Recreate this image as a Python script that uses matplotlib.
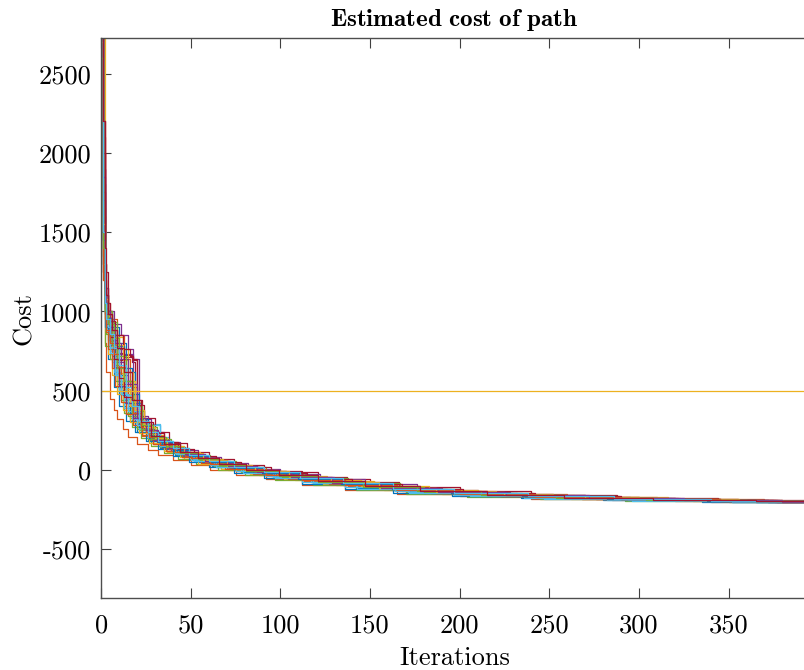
import matplotlib
matplotlib.use("Agg")
import matplotlib.pyplot as plt
from matplotlib.ticker import FuncFormatter

# -------- data (step points: iteration, best cost) --------
x_max = 394
y_min, y_max = -808, 2727
ref_level = 500

iter_runs = [
    [0, 1, 2, 4, 6, 9, 12, 16, 20, 26, 33, 41, 50, 62, 76, 93, 112, 135, 162, 195, 232, 280, 335],
    [0, 1, 3, 5, 7, 10, 14, 18, 23, 29, 36, 45, 56, 70, 86, 104, 128, 150, 180, 215, 260, 310, 370],
    [0, 2, 4, 6, 9, 13, 17, 21, 27, 34, 42, 52, 64, 80, 98, 120, 146, 175, 210, 250, 300, 355],
    [0, 1, 2, 3, 5, 7, 11, 15, 19, 25, 31, 39, 48, 59, 73, 90, 108, 132, 158, 190, 228, 270, 320, 375],
    [0, 1, 2, 4, 6, 9, 12, 16, 21, 27, 34, 43, 53, 66, 81, 99, 121, 147, 178, 212, 255, 305, 360],
    [0, 1, 2, 3, 5, 8, 11, 14, 18, 22, 33, 40, 49, 60, 74, 91, 110, 133, 160, 192, 230, 275, 318, 365],
    [0, 1, 2, 4, 6, 9, 12, 17, 19, 24, 30, 37, 46, 57, 70, 86, 93, 121, 150, 178, 210, 250, 295, 345],
    [0, 1, 2, 3, 5, 7, 10, 14, 19, 23, 30, 38, 47, 58, 72, 88, 107, 130, 156, 187, 224, 268, 316, 372],
    [0, 1, 2, 3, 5, 7, 9, 12, 15, 20, 26, 32, 40, 50, 61, 75, 92, 112, 136, 165, 200, 240, 285, 340],
    [0, 1, 2, 4, 6, 8, 11, 14, 18, 23, 29, 37, 46, 57, 71, 88, 108, 131, 158, 190, 230, 276, 330],
    [0, 1, 2, 3, 5, 8, 18, 21, 27, 34, 42, 52, 64, 78, 95, 116, 140, 168, 200, 240, 288, 345],
    [0, 1, 2, 10, 13, 17, 22, 28, 35, 43, 53, 65, 80, 97, 118, 142, 170, 204, 245, 292, 350],
    [0, 1, 2, 3, 4, 6, 9, 13, 17, 22, 33, 38, 46, 56, 69, 85, 103, 125, 150, 180, 216, 258, 306, 360],
    [0, 1, 2, 3, 5, 7, 10, 12, 18, 20, 25, 31, 38, 47, 58, 72, 88, 108, 132, 160, 193, 232, 276, 325, 380],
    [0, 1, 2, 4, 7, 10, 14, 19, 25, 32, 40, 49, 60, 74, 91, 112, 136, 163, 196, 234, 280, 335],
    [0, 1, 2, 3, 5, 8, 11, 15, 20, 26, 33, 41, 50, 61, 75, 92, 113, 138, 166, 199, 238, 284, 338],
    [0, 1, 2, 3, 4, 6, 9, 12, 16, 21, 27, 35, 44, 54, 67, 83, 102, 124, 150, 181, 218, 262, 312, 368],
    [0, 1, 2, 4, 6, 9, 13, 17, 22, 28, 35, 44, 54, 67, 82, 100, 122, 147, 176, 210, 252, 300, 355],
    [0, 1, 2, 3, 5, 8, 11, 15, 20, 26, 33, 41, 51, 63, 78, 96, 117, 141, 170, 204, 244, 292, 348],
    [0, 1, 2, 3, 5, 7, 10, 13, 17, 21, 26, 33, 41, 50, 61, 75, 92, 112, 136, 164, 197, 236, 282, 335],
    [0, 1, 2, 4, 6, 9, 13, 17, 23, 30, 38, 48, 60, 74, 91, 112, 137, 166, 200, 240, 288, 344],
    [0, 1, 2, 3, 5, 8, 12, 16, 21, 27, 34, 42, 52, 64, 79, 97, 118, 143, 172, 206, 247, 295, 352],
    [0, 1, 2, 3, 4, 6, 8, 11, 14, 18, 23, 29, 36, 45, 56, 69, 85, 104, 127, 154, 186, 224, 268, 320, 376],
    [0, 1, 2, 4, 6, 9, 12, 16, 21, 27, 35, 44, 55, 68, 84, 103, 126, 152, 183, 220, 264, 316, 372],
    [0, 1, 2, 3, 5, 7, 10, 14, 18, 23, 29, 37, 46, 57, 70, 86, 105, 127, 153, 184, 221, 265, 316, 372],
    [0, 1, 2, 4, 6, 9, 13, 18, 24, 31, 39, 49, 61, 75, 92, 113, 138, 167, 201, 241, 289, 346],
    [0, 1, 2, 3, 5, 8, 11, 15, 20, 26, 33, 41, 51, 63, 78, 96, 117, 142, 171, 205, 246, 294, 350],
    [0, 1, 2, 3, 5, 7, 10, 13, 17, 22, 28, 35, 44, 55, 68, 84, 103, 126, 153, 185, 223, 268, 320, 377],
    [0, 1, 3, 6, 10, 14, 19, 22, 27, 33, 40, 48, 58, 70, 85, 103, 125, 150, 180, 215, 258, 310, 365],
    [0, 1, 2, 5, 9, 13, 16, 20, 25, 31, 38, 47, 58, 71, 87, 106, 129, 156, 187, 224, 268, 320],
    [0, 1, 3, 5, 8, 12, 15, 18, 22, 28, 35, 43, 53, 65, 80, 98, 120, 145, 175, 210, 252, 300, 356],
    [0, 1, 2, 4, 7, 11, 15, 18, 21, 26, 32, 39, 48, 59, 72, 88, 107, 130, 157, 188, 226, 270, 322, 378],
    [0, 1, 2, 3, 6, 9, 13, 17, 22, 28, 36, 45, 55, 68, 83, 101, 123, 149, 180, 216, 259, 310, 366],
    [0, 1, 2, 4, 7, 10, 14, 19, 22, 33, 42, 52, 64, 79, 97, 118, 143, 172, 206, 247, 296, 352],
    [0, 1, 2, 3, 5, 8, 12, 16, 18, 20, 24, 29, 35, 43, 52, 64, 78, 95, 115, 140, 168, 202, 242, 290, 345],
    [0, 1, 2, 4, 6, 9, 13, 17, 21, 26, 32, 40, 49, 60, 74, 90, 110, 134, 162, 195, 235, 282, 338],
    [0, 1, 2, 3, 5, 7, 10, 14, 18, 22, 27, 33, 41, 50, 61, 75, 92, 112, 136, 165, 200, 242, 290, 345],
    [0, 1, 2, 4, 6, 9, 12, 15, 19, 24, 30, 37, 46, 57, 70, 86, 105, 128, 155, 187, 225, 270, 323, 380],
    [0, 1, 2, 3, 5, 8, 11, 15, 20, 25, 31, 38, 47, 58, 71, 87, 106, 129, 156, 188, 226, 272, 325, 380],
    [0, 1, 2, 4, 7, 10, 14, 18, 23, 29, 36, 44, 54, 66, 81, 99, 121, 146, 176, 212, 254, 304, 360],
    [0, 1, 2, 3, 5, 7, 10, 14, 17, 21, 26, 32, 40, 49, 60, 74, 91, 111, 135, 163, 197, 238, 286, 340],
    [0, 1, 2, 3, 4, 6, 9, 13, 17, 22, 28, 35, 44, 54, 66, 81, 99, 121, 147, 178, 215, 258, 308, 365],
]

cost_runs = [
    [3400, 1650, 1020, 880, 720, 560, 420, 310, 240, 180, 135, 95, 60, 25, -5, -35, -65, -95, -125, -150, -168, -182, -195],
    [2900, 1200, 950, 800, 640, 500, 360, 280, 215, 165, 120, 80, 40, 10, -20, -50, -80, -110, -135, -155, -172, -186, -198],
    [3000, 1100, 900, 760, 610, 470, 350, 270, 205, 150, 110, 70, 30, 0, -35, -70, -105, -135, -158, -174, -187, -197],
    [3800, 1900, 1050, 950, 820, 700, 600, 420, 300, 230, 170, 120, 85, 45, 10, -20, -50, -85, -115, -140, -160, -176, -189, -199],
    [2800, 1500, 1000, 900, 840, 540, 430, 330, 250, 190, 140, 100, 55, 20, -15, -45, -80, -110, -138, -158, -175, -188, -197],
    [3200, 1300, 980, 900, 760, 620, 480, 390, 300, 280, 180, 125, 80, 40, 5, -28, -60, -92, -122, -148, -166, -180, -192, -200],
    [4200, 2100, 1150, 980, 850, 760, 726, 680, 380, 260, 190, 140, 95, 55, 20, -5, -13, -57, -105, -135, -157, -174, -187, -198],
    [3000, 1700, 1100, 900, 780, 640, 520, 450, 380, 260, 195, 145, 100, 55, 15, -20, -52, -85, -118, -145, -165, -180, -192, -201],
    [2950, 1250, 800, 620, 450, 380, 320, 260, 210, 165, 125, 95, 65, 30, 0, -30, -60, -95, -125, -150, -168, -182, -193, -200],
    [2600, 1350, 1000, 880, 760, 650, 560, 480, 300, 220, 160, 110, 70, 35, 0, -30, -62, -96, -126, -150, -168, -183, -195],
    [3500, 1800, 1100, 980, 840, 730, 330, 260, 190, 140, 100, 62, 28, -5, -38, -70, -105, -132, -155, -172, -186, -197],
    [2700, 1450, 780, 480, 360, 270, 200, 150, 108, 70, 35, 0, -32, -65, -98, -128, -152, -170, -184, -195, -201],
    [3100, 1550, 1050, 930, 820, 680, 560, 450, 370, 290, 210, 150, 105, 60, 22, -12, -45, -78, -110, -138, -160, -176, -190, -199],
    [3300, 2000, 1200, 1000, 880, 790, 735, 710, 690, 320, 240, 180, 130, 88, 50, 15, -18, -50, -85, -118, -146, -165, -181, -193, -202],
    [2500, 1250, 900, 700, 520, 400, 310, 240, 180, 130, 90, 52, 15, -20, -54, -88, -118, -145, -164, -180, -193, -201],
    [3600, 1600, 1080, 950, 810, 660, 540, 400, 290, 210, 155, 108, 68, 30, -5, -38, -72, -105, -133, -156, -173, -187, -197],
    [2750, 1650, 1000, 870, 730, 600, 480, 380, 300, 230, 170, 118, 78, 40, 5, -27, -60, -92, -122, -148, -167, -181, -193, -200],
    [3900, 1900, 1150, 960, 820, 680, 540, 420, 320, 240, 175, 125, 82, 42, 8, -25, -58, -92, -124, -150, -170, -184, -196],
    [2850, 1400, 960, 860, 700, 560, 440, 340, 260, 195, 145, 100, 60, 22, -12, -45, -78, -110, -138, -159, -175, -188, -198],
    [3050, 1500, 1000, 880, 750, 620, 500, 390, 320, 260, 200, 150, 105, 65, 28, -6, -40, -74, -108, -136, -158, -175, -188, -198],
    [4500, 2200, 1250, 1000, 850, 690, 560, 440, 330, 240, 170, 115, 70, 30, -8, -42, -76, -108, -136, -158, -176, -192],
    [3150, 1550, 1020, 900, 760, 600, 470, 360, 270, 200, 145, 100, 58, 20, -15, -48, -82, -114, -142, -162, -178, -191, -200],
    [2650, 1350, 980, 870, 760, 640, 530, 430, 350, 280, 220, 165, 120, 80, 42, 8, -24, -56, -90, -120, -146, -166, -181, -193, -201],
    [3350, 1700, 1080, 930, 780, 640, 510, 400, 300, 220, 160, 110, 68, 30, -5, -38, -72, -104, -134, -157, -174, -188, -198],
    [2950, 1600, 1040, 920, 790, 650, 530, 420, 330, 255, 190, 140, 96, 55, 18, -16, -50, -84, -116, -143, -163, -179, -192, -200],
    [3700, 1800, 1100, 930, 790, 640, 500, 370, 270, 195, 140, 95, 55, 18, -18, -52, -86, -118, -145, -166, -182, -196],
    [2800, 1450, 990, 880, 740, 600, 480, 370, 280, 210, 155, 108, 66, 28, -8, -42, -76, -108, -137, -160, -176, -190, -199],
    [3250, 1750, 1120, 980, 840, 700, 580, 460, 360, 275, 205, 150, 104, 62, 25, -10, -44, -78, -112, -140, -162, -178, -191, -201],
    [3000, 1300, 1000, 900, 800, 620, 420, 300, 220, 165, 120, 85, 50, 15, -20, -52, -86, -116, -143, -163, -179, -192, -200],
    [3300, 1500, 1050, 950, 850, 700, 520, 330, 240, 180, 130, 88, 50, 15, -18, -50, -84, -116, -144, -165, -181, -194],
    [2700, 1300, 1000, 920, 840, 760, 620, 430, 290, 210, 155, 112, 72, 35, 0, -32, -66, -100, -130, -154, -171, -186, -197],
    [3600, 1700, 1100, 1000, 920, 850, 760, 700, 340, 250, 185, 135, 95, 55, 20, -12, -46, -80, -112, -140, -160, -176, -190, -199],
    [2900, 1600, 1100, 1000, 930, 780, 560, 360, 260, 195, 145, 102, 62, 25, -10, -44, -78, -110, -138, -159, -176, -189, -198],
    [3100, 1400, 1000, 900, 780, 650, 470, 380, 280, 150, 100, 55, 18, -18, -52, -86, -118, -146, -166, -182, -196, -203],
    [3500, 2000, 1300, 1050, 940, 850, 760, 720, 700, 410, 300, 230, 175, 130, 90, 50, 15, -20, -55, -90, -122, -148, -168, -183, -196],
    [2800, 1450, 1050, 960, 880, 780, 640, 480, 320, 240, 175, 128, 88, 50, 14, -20, -55, -90, -122, -148, -168, -184, -197],
    [3000, 1200, 950, 880, 800, 730, 650, 520, 360, 270, 205, 155, 112, 75, 38, 3, -30, -64, -98, -130, -155, -173, -187, -198],
    [3200, 1550, 1080, 970, 880, 790, 690, 560, 380, 270, 200, 150, 105, 62, 25, -10, -44, -78, -112, -140, -161, -177, -190, -200],
    [3400, 1850, 1150, 1000, 900, 800, 700, 540, 330, 250, 190, 140, 98, 58, 22, -12, -46, -80, -112, -140, -160, -177, -190, -200],
    [2600, 1400, 1000, 920, 830, 720, 560, 400, 280, 205, 150, 108, 68, 30, -5, -40, -74, -106, -136, -158, -175, -189, -198],
    [3050, 1500, 1050, 950, 860, 770, 660, 520, 400, 310, 240, 185, 138, 95, 55, 18, -16, -52, -86, -118, -146, -166, -182, -195],
    [3800, 2200, 1400, 1100, 980, 880, 770, 620, 440, 300, 215, 160, 115, 72, 35, 0, -34, -68, -102, -133, -157, -175, -189, -199],
]

x_ticks = [0, 50, 100, 150, 200, 250, 300, 350]
y_ticks = [-500, 0, 500, 1000, 1500, 2000, 2500]

matlab_colors = [
    (0.000, 0.447, 0.741), (0.850, 0.325, 0.098), (0.929, 0.694, 0.125),
    (0.494, 0.184, 0.556), (0.466, 0.674, 0.188), (0.301, 0.745, 0.933),
    (0.635, 0.078, 0.184),
]

plt.rcParams['font.family'] = 'serif'
plt.rcParams['font.serif'] = ['cmr10']
plt.rcParams['mathtext.fontset'] = 'cm'
plt.rcParams['axes.unicode_minus'] = False
plt.rcParams['axes.formatter.use_mathtext'] = True

fig = plt.figure(figsize=(8.045, 6.705), dpi=100)
ax = fig.add_axes([101 / 804, 1 - 598 / 670, 706 / 804, 560 / 670])

for k, (its, costs) in enumerate(zip(iter_runs, cost_runs)):
    xs = its + [x_max]
    ys = costs + [costs[-1]]
    ax.plot(xs, ys, drawstyle='steps-post', lw=0.9,
            color=matlab_colors[k % len(matlab_colors)])

ax.axhline(ref_level, color=matlab_colors[2], lw=0.9)

ax.set_xlim(0, x_max)
ax.set_ylim(y_min, y_max)
ax.set_xticks(x_ticks)
ax.set_yticks(y_ticks)
ax.xaxis.set_major_formatter(FuncFormatter(lambda v, p: f"{v:g}"))
ax.yaxis.set_major_formatter(FuncFormatter(lambda v, p: f"{v:g}"))
ax.tick_params(direction='in', length=7, width=0.8, color='0.25',
               labelsize=19, top=True, right=False)
ax.tick_params(axis='x', pad=11)
ax.tick_params(axis='y', pad=7)
for s in ax.spines.values():
    s.set_color('0.3')
    s.set_linewidth(1.0)
ax.spines['right'].set_visible(False)

ax.set_xlabel("Iterations", fontsize=19, labelpad=6)
ax.set_ylabel("Cost", fontsize=19, labelpad=2)
ax.set_title(r"$\mathbf{Estimated\ cost\ of\ path}$", fontsize=18, pad=9)

fig.savefig("out.png", dpi=100)
